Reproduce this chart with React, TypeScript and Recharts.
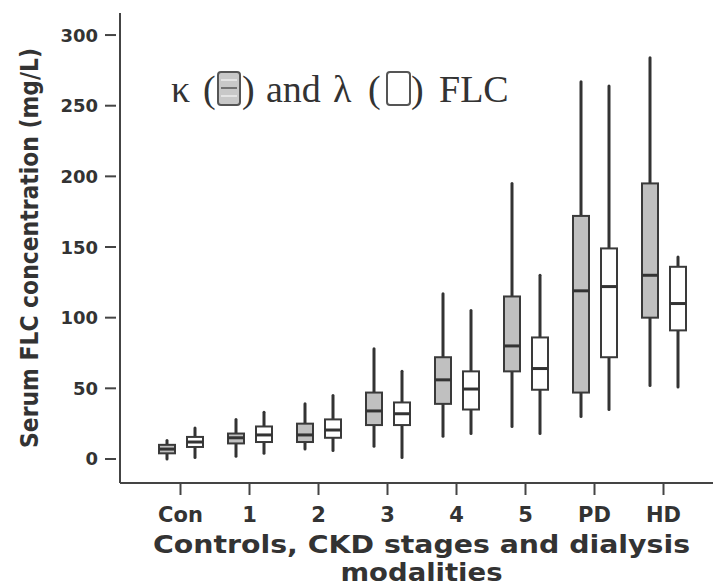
import React from 'react';
import { BarChart, Bar, XAxis, YAxis } from 'recharts';

const categories = ['Con', '1', '2', '3', '4', '5', 'PD', 'HD'];

// kappa FLC (grey boxes)
const kappaMin = [0, 2, 7, 9, 16, 23, 30, 52];
const kappaQ1 = [4, 11, 12, 24, 39, 62, 47, 100];
const kappaMedian = [7, 15, 17, 34, 56, 80, 119, 130];
const kappaQ3 = [10, 18, 25, 47, 72, 115, 172, 195];
const kappaMax = [13, 28, 39, 78, 117, 195, 267, 284];

// lambda FLC (white boxes)
const lambdaMin = [1, 4, 6, 1, 18, 18, 35, 51];
const lambdaQ1 = [8.5, 12, 15, 24, 35, 49, 72, 91];
const lambdaMedian = [12, 17, 20.5, 32, 49.5, 64, 122, 110];
const lambdaQ3 = [15.6, 23, 28, 40, 62, 86, 149, 136];
const lambdaMax = [22, 33, 45, 62, 105, 130, 264, 143];

const yTicks = [0, 50, 100, 150, 200, 250, 300];

const data = categories.map((name, i) => ({
  name,
  kappa: [kappaMin[i], kappaMax[i]],
  lambda: [lambdaMin[i], lambdaMax[i]],
  k: { min: kappaMin[i], q1: kappaQ1[i], med: kappaMedian[i], q3: kappaQ3[i], max: kappaMax[i] },
  l: { min: lambdaMin[i], q1: lambdaQ1[i], med: lambdaMedian[i], q3: lambdaQ3[i], max: lambdaMax[i] },
}));

const ink = '#333';
const axisFont = '"DejaVu Sans", sans-serif';

function BoxShape(props: any) {
  const { x, y, width, height, payload, statsKey, boxFill } = props;
  const s = payload[statsKey];
  const top = Math.min(y, y + height);
  const h = Math.abs(height);
  const pix = (v: number) => top + ((s.max - v) / (s.max - s.min)) * h;
  const cx = x + width / 2;
  return (
    <g>
      <line x1={cx} x2={cx} y1={pix(s.max)} y2={pix(s.q3)} stroke={ink} strokeWidth={3} strokeLinecap="round" />
      <line x1={cx} x2={cx} y1={pix(s.q1)} y2={pix(s.min)} stroke={ink} strokeWidth={3} strokeLinecap="round" />
      <rect x={x} y={pix(s.q3)} width={width} height={pix(s.q1) - pix(s.q3)} fill={boxFill} stroke="#3a3a3a" strokeWidth={2} />
      <line x1={x} x2={x + width} y1={pix(s.med)} y2={pix(s.med)} stroke={ink} strokeWidth={3} />
    </g>
  );
}

function YTick(props: any) {
  const { x, y, payload } = props;
  return (
    <g>
      <line x1={x - 15} x2={x - 4} y1={y} y2={y} stroke="#444" strokeWidth={2} />
      <text x={x - 22} y={y + 6.5} textAnchor="end" fontFamily={axisFont} fontWeight="bold" fontSize={18} fill={ink}>
        {payload.value}
      </text>
    </g>
  );
}

function XTick(props: any) {
  const { x, y, payload } = props;
  return (
    <text x={x} y={y + 27} textAnchor="middle" fontFamily={axisFont} fontWeight="bold" fontSize={21} fill={ink}>
      {payload.value}
    </text>
  );
}

export default function App() {
  return (
    <div style={{ position: 'absolute', left: 0, top: 0, width: 713, height: 587, background: '#fff' }}>
      <BarChart width={713} height={587} data={data} margin={{ top: 13, right: 0, bottom: 0, left: 0 }} barSize={16} barGap={12}>
        <XAxis
          xAxisId="top"
          orientation="top"
          dataKey="name"
          height={0}
          tick={false}
          tickLine={false}
          axisLine={{ stroke: '#555', strokeWidth: 2 }}
        />
        <XAxis
          dataKey="name"
          height={104}
          interval={0}
          tickSize={12}
          tickMargin={0}
          padding={{ left: 26, right: 15 }}
          axisLine={{ stroke: '#444', strokeWidth: 2 }}
          tickLine={{ stroke: '#444', strokeWidth: 2 }}
          tick={<XTick />}
        />
        <YAxis
          type="number"
          domain={[-17, 315.6]}
          ticks={yTicks}
          interval={0}
          allowDataOverflow
          width={120}
          tickSize={0}
          tickMargin={0}
          tickLine={false}
          axisLine={{ stroke: '#444', strokeWidth: 2 }}
          tick={<YTick />}
        />
        <Bar dataKey="kappa" isAnimationActive={false} shape={(p: any) => <BoxShape {...p} statsKey="k" boxFill="#c0c0c0" />} />
        <Bar dataKey="lambda" isAnimationActive={false} shape={(p: any) => <BoxShape {...p} statsKey="l" boxFill="#ffffff" />} />
      </BarChart>
      <svg width={713} height={587} style={{ position: 'absolute', left: 0, top: 0, pointerEvents: 'none' }}>
        <text
          transform="translate(38, 248) rotate(-90)"
          textAnchor="middle"
          fontFamily={axisFont}
          fontWeight="bold"
          fontSize={24}
          textLength={400}
          lengthAdjust="spacingAndGlyphs"
          fill={ink}
        >
          Serum FLC concentration (mg/L)
        </text>
        <text
          x={421.5}
          y={553}
          textAnchor="middle"
          fontFamily={axisFont}
          fontWeight="bold"
          fontSize={24}
          textLength={537}
          lengthAdjust="spacingAndGlyphs"
          fill={ink}
        >
          Controls, CKD stages and dialysis
        </text>
        <text
          x={421.5}
          y={581}
          textAnchor="middle"
          fontFamily={axisFont}
          fontWeight="bold"
          fontSize={24}
          textLength={162}
          lengthAdjust="spacingAndGlyphs"
          fill={ink}
        >
          modalities
        </text>
        <g fontFamily='"Liberation Serif", serif' fontSize={38} fill="#333">
          <text x={171} y={102}>κ</text>
          <text x={203} y={102}>(</text>
          <rect x={218} y={72} width={22} height={33} rx={3} fill="#c8c8c8" stroke="#555" strokeWidth={2} />
          <line x1={221} x2={237} y1={80} y2={80} stroke="#eee" strokeWidth={1.5} />
          <line x1={221} x2={237} y1={88} y2={88} stroke="#555" strokeWidth={1.5} />
          <line x1={221} x2={237} y1={96} y2={96} stroke="#eee" strokeWidth={1.5} />
          <text x={242} y={102}>)</text>
          <text x={266} y={102}>and</text>
          <text x={333} y={102}>λ</text>
          <text x={368} y={102}>(</text>
          <rect x={387} y={72} width={23} height={33} rx={3} fill="#fff" stroke="#555" strokeWidth={2} />
          <text x={411} y={102}>)</text>
          <text x={439} y={102}>FLC</text>
        </g>
      </svg>
    </div>
  );
}
